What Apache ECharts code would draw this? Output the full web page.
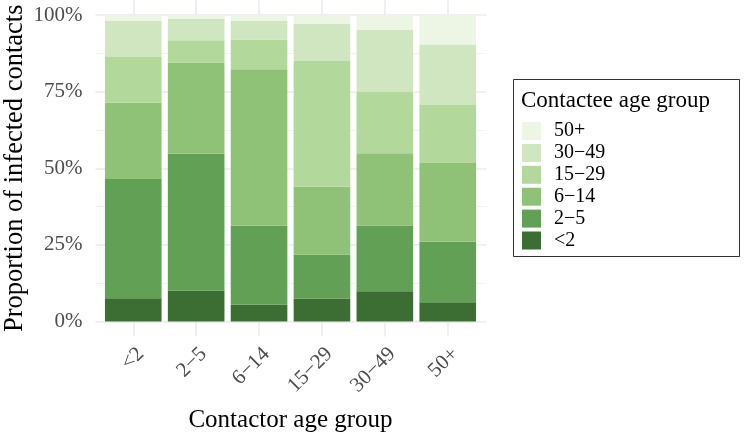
<!DOCTYPE html>
<html>
<head>
<meta charset="utf-8">
<script src="https://cdn.jsdelivr.net/npm/echarts@6/dist/echarts.min.js"></script>
<style>
  html, body { margin: 0; padding: 0; background: #fff; }
  #main { width: 744px; height: 435px; }
</style>
</head>
<body>
<div id="main"></div>
<script>
// contactor age groups (x axis)
var categories = ['<2', '2\u22125', '6\u221214', '15\u221229', '30\u221249', '50+'];
// contactee age groups, bottom to top of each stack
var groups = ['<2', '2\u22125', '6\u221214', '15\u221229', '30\u221249', '50+'];
// proportion (%) of infected contacts per contactee group, one value per contactor group
var pctUnder2 = [7.6, 10.1, 5.5, 7.5, 9.9, 6.3];
var pct2to5 = [38.9, 44.6, 25.7, 14.3, 21.4, 19.7];
var pct6to14 = [24.9, 29.8, 51.1, 22.2, 23.6, 25.7];
var pct15to29 = [14.9, 7.3, 9.7, 41.0, 20.0, 18.9];
var pct30to49 = [11.8, 6.9, 6.1, 12.1, 20.2, 19.8];
var pct50plus = [1.9, 1.3, 1.9, 2.9, 4.9, 9.6];
var yTicks = [0, 25, 50, 75, 100];

var colors = ['#3c6d33', '#62a055', '#8fc277', '#b3d89c', '#d0e6c0', '#edf5e5'];
var values = [pctUnder2, pct2to5, pct6to14, pct15to29, pct30to49, pct50plus];
var font = 'Liberation Serif';

var myChart = echarts.init(document.getElementById('main'));

var series = groups.map(function (g, i) {
    return {
        name: g,
        type: 'bar',
        stack: 'all',
        xAxisIndex: 0,
        yAxisIndex: 0,
        barWidth: '90%',
        itemStyle: { color: colors[i] },
        data: values[i]
    };
});

myChart.setOption({
    animation: false,
    textStyle: { fontFamily: font },
    title: {
        text: 'Contactee age group',
        left: 521,
        top: 89,
        padding: 0,
        textStyle: { fontFamily: font, fontSize: 23, fontWeight: 'normal', color: '#000' }
    },
    legend: {
        orient: 'vertical',
        left: 522,
        top: 121,
        padding: 0,
        icon: 'rect',
        itemWidth: 19,
        itemHeight: 18,
        itemGap: 1.9,
        data: groups.slice().reverse(),
        textStyle: { fontFamily: font, fontSize: 20, lineHeight: 18, color: '#000', padding: [0, 0, 0, 8] }
    },
    graphic: [{
        type: 'rect',
        shape: { x: 513.5, y: 79.5, width: 226, height: 177 },
        style: { fill: null, stroke: '#333', lineWidth: 1 }
    }],
    grid: [
        // bars
        { left: 101.8, top: 15, width: 377.4, height: 306.5, outerBoundsMode: 'none' },
        // background grid lines (panel slightly wider than bars)
        { left: 95.4, top: 15, width: 391.2, height: 306.5, z: 0, outerBoundsMode: 'none' }
    ],
    xAxis: [{
        type: 'category',
        gridIndex: 0,
        data: categories,
        name: 'Contactor age group',
        nameLocation: 'middle',
        nameGap: 86,
        nameMoveOverlap: false,
        nameTextStyle: { fontFamily: font, fontSize: 25, color: '#000' },
        axisLine: { show: false },
        axisTick: { show: true, alignWithLabel: true, length: 15, lineStyle: { color: '#ebebeb', width: 1.6 } },
        axisLabel: { rotate: 45, margin: 22, verticalAlign: 'top', fontFamily: font, fontSize: 21, color: '#4d4d4d' },
        splitLine: { show: false }
    }, {
        type: 'category',
        gridIndex: 0,
        position: 'top',
        data: categories,
        axisLine: { show: false },
        axisTick: { show: true, alignWithLabel: true, length: 15, lineStyle: { color: '#ebebeb', width: 1.6 } },
        axisLabel: { show: false }
    }, {
        type: 'value',
        gridIndex: 1,
        min: 0,
        max: 1,
        show: false
    }],
    yAxis: [{
        type: 'value',
        gridIndex: 0,
        min: 0,
        max: 100,
        show: false
    }, {
        type: 'value',
        gridIndex: 1,
        min: 0,
        max: 100,
        interval: 25,
        name: 'Proportion of infected contacts',
        nameLocation: 'middle',
        nameGap: 67,
        nameMoveOverlap: false,
        nameTextStyle: { fontFamily: font, fontSize: 26.5, color: '#000' },
        axisLine: { show: false },
        axisTick: { show: false },
        axisLabel: {
            margin: 13,
            fontFamily: font,
            fontSize: 21,
            color: '#4d4d4d',
            formatter: function (v) { return yTicks.indexOf(v) >= 0 ? v + '%' : ''; }
        },
        splitLine: { lineStyle: { color: '#ebebeb', width: 1.6 } },
        minorTick: { show: false, splitNumber: 2 },
        minorSplitLine: { show: true, lineStyle: { color: '#f2f2f2', width: 1 } }
    }],
    series: series
});
</script>
</body>
</html>
